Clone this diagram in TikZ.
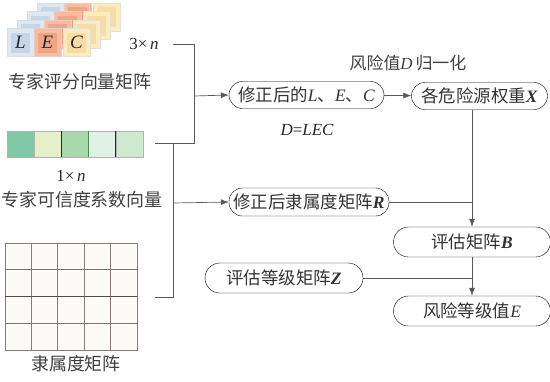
\documentclass[tikz,border=0pt]{standalone}
\usepackage{fontspec}
\setmainfont{Liberation Serif}
\newfontfamily\cjk{Noto Sans CJK SC}
\usetikzlibrary{arrows.meta}
% card and vector colours
\definecolor{cardL}{HTML}{DDE8F1}
\definecolor{innerL}{HTML}{C5D7E6}
\definecolor{cardE}{HTML}{F6BDA3}
\definecolor{innerE}{HTML}{F0A585}
\definecolor{cardC}{HTML}{FBEBC0}
\definecolor{innerC}{HTML}{F6DDA6}
\definecolor{vecA}{HTML}{80C8A6}
\definecolor{vecB}{HTML}{E5F0C8}
\definecolor{vecC}{HTML}{A9D8AD}
\definecolor{vecD}{HTML}{E0F2E6}
\definecolor{vecE}{HTML}{CFE9CF}
\definecolor{gridline}{HTML}{8C7D7A}
\definecolor{gridfill}{HTML}{FDFBF7}
% italic (bold) letters in Times-like face inside CJK text
\newcommand{\vi}[1]{{\rmfamily\itshape #1}}
\newcommand{\vb}[1]{{\rmfamily\bfseries\itshape #1}}
\tikzset{
  flowbox/.style={draw, rounded corners=13.5bp, minimum height=27bp, inner sep=1bp,
    font=\cjk\fontsize{17.5}{19}\selectfont, text=black!80},
  caption/.style={font=\cjk\fontsize{18}{20}\selectfont, text=black!75},
  dimlabel/.style={font=\fontsize{17}{19}\selectfont, text=black!85},
  link/.style={draw=black!65, line width=0.7bp},
  arrowlink/.style={link, -{Latex[length=8bp,width=6bp]}},
}
\begin{document}
\begin{tikzpicture}[x=1bp, y=-1bp]
    \useasboundingbox (0,0) rectangle (550,381);
    % stacked L E C cards
    \foreach \k in {3,2,1,0}{
        \foreach \cx/\cc/\ic in {7/cardL/innerL, 34/cardE/innerE, 63/cardC/innerC}{
            \fill[\cc, draw=\ic!80!black!40] (\cx+10*\k, 28.5-8.5*\k) rectangle ++(27,28);
            \fill[\ic] (\cx+10*\k+4, 28.5-8.5*\k+4) rectangle ++(19,20);
        }
    }
    \node[dimlabel, font=\fontsize{19}{21}\selectfont] at (20.5,42.5) {\vi{L}};
    \node[dimlabel, font=\fontsize{19}{21}\selectfont] at (47.5,42.5) {\vi{E}};
    \node[dimlabel, font=\fontsize{19}{21}\selectfont] at (76.5,42.5) {\vi{C}};
    \node[dimlabel] (dimA) at (144,44) {3×\,\vi{n}};
    \node[caption] (capA) at (80,82) {专家评分向量矩阵};
    % expert credibility vector
    \foreach \i/\c in {0/vecA, 1/vecB, 2/vecC, 3/vecD, 4/vecE}
        \fill[\c, draw=black!30] (7+27.2*\i,131) rectangle ++(27.2,26);
    \draw[green!25!black, line width=1.2bp] (61.4,131) -- (61.4,157) (115.8,131) -- (115.8,157);
    \draw[green!35!black!70, line width=0.8bp] (88.6,131) -- (88.6,157);
    \node[dimlabel] (dimB) at (71,176) {1×\,\vi{n}};
    \node[caption] (capB) at (82,200) {专家可信度系数向量};
    % membership matrix
    \fill[gridfill, draw=gridline, line width=0.8bp] (5,243) rectangle (137,350);
    \foreach \gx in {31.4,57.8,84.2,110.6}
        \draw[gridline, line width=1bp] (\gx,243) -- (\gx,350);
    \foreach \gy in {269.75,323.25}
        \draw[gridline!90!black, line width=1bp] (5,\gy) -- (137,\gy);
    \draw[gridline!60!black, line width=1.3bp] (5,296.5) -- (137,296.5);
    \node[caption] (capC) at (76,364) {隶属度矩阵};
    % flow nodes
    \node[flowbox, minimum width=155bp] (fixL) at (306.5,95) {修正后的\vi{L}、\vi{E}、\vi{C}};
    \node[flowbox, minimum width=136bp] (weightX) at (479.5,96) {各危险源权重\vb{X}};
    \node[flowbox, minimum width=160bp, minimum height=28bp] (fixR) at (309,202) {修正后隶属度矩阵\vb{R}};
    \node[flowbox, minimum width=157bp, minimum height=30bp, rounded corners=15bp] (evalB) at (472,242) {评估矩阵\vb{B}};
    \node[flowbox, minimum width=158bp, minimum height=30bp, rounded corners=15bp] (gradeZ) at (284,278) {评估等级矩阵\vb{Z}};
    \node[flowbox, minimum width=157bp, minimum height=30bp, rounded corners=15bp] (riskE) at (472,311) {风险等级值\vi{E}};
    \node[caption, font=\cjk\fontsize{17}{19}\selectfont] (normD) at (408,63) {风险值\vi{D}\,归一化};
    \node[dimlabel] (prodD) at (307,130) {\vi{D}=\vi{LEC}};
    % connectors
    \coordinate (startA) at (173,44);
    \coordinate (joinA) at (194,96);
    \coordinate (startB) at (155,143);
    \coordinate (joinB) at (173,203);
    \coordinate (startC) at (155,297);
    \draw[link] (startA) -- (194,44) -- (194,143) -- (startB);
    \draw[link] (173,143) -- (173,297) -- (startC);
    \draw[arrowlink] (joinA) -- (fixL.west);
    \draw[arrowlink] (joinB) -- (fixR.west);
    \draw[arrowlink] (fixL) -- (weightX);
    \draw[arrowlink] (weightX.south -| evalB.north) -- (evalB.north);
    \draw[link] (fixR.east) -- (fixR.east -| evalB.north);
    \draw[link] (gradeZ.east) -- (gradeZ.east -| evalB.south);
    \draw[arrowlink] (evalB) -- (riskE);
\end{tikzpicture}
\end{document}
